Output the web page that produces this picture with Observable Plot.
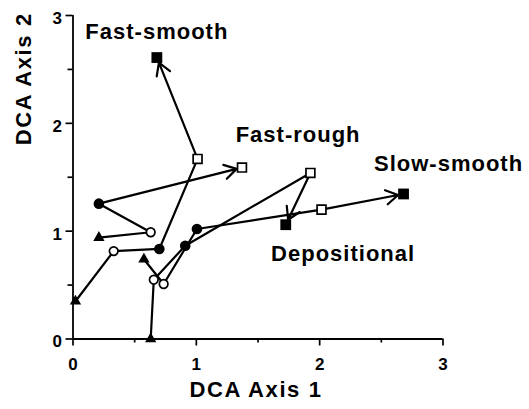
<!DOCTYPE html>
<html><head><meta charset="utf-8">
<script src="https://cdn.jsdelivr.net/npm/d3@7"></script>
<script src="https://cdn.jsdelivr.net/npm/@observablehq/plot@0.6"></script>
<style>
html,body{margin:0;padding:0;background:#fff}
svg text{font-weight:bold}
</style>
</head><body><div id="chart"></div>
<script>
// ---- data ----
const sites = ["Fast-smooth", "Fast-rough", "Depositional", "Slow-smooth"];
// stages 1..5 (triangle, open circle, filled circle, open square, filled square)
const fastSmoothX = [0.02, 0.33, 0.70, 1.01, 0.68];
const fastSmoothY = [0.35, 0.815, 0.835, 1.67, 2.61];
const fastRoughX = [0.21, 0.63, 0.21, 1.37];
const fastRoughY = [0.94, 0.99, 1.255, 1.59];
const depositionalX = [0.63, 0.655, 0.91, 1.925, 1.725];
const depositionalY = [0.0, 0.55, 0.865, 1.54, 1.06];
const slowSmoothX = [0.575, 0.735, 1.005, 2.015, 2.68];
const slowSmoothY = [0.74, 0.51, 1.02, 1.20, 1.345];
const labelX = [0.68, 1.825, 2.19, 3.045];
const labelY = [2.85, 1.89, 0.79, 1.625];
const xTicks = [0, 1, 2, 3];
const yTicks = [0, 1, 2, 3];
const minorTicks = [0.5, 1.5, 2.5];
const xTitle = "DCA Axis 1";
const yTitle = "DCA Axis 2";

// ---- build tables ----
const seriesX = [fastSmoothX, fastRoughX, depositionalX, slowSmoothX];
const seriesY = [fastSmoothY, fastRoughY, depositionalY, slowSmoothY];
const points = [];
const lineRows = [];
const arrows = [];
sites.forEach((site, s) => {
  const X = seriesX[s], Y = seriesY[s], n = X.length;
  X.forEach((x, i) => {
    points.push({site, stage: i + 1, x, y: Y[i]});
    if (i < n - 1) lineRows.push({site, x, y: Y[i]});
  });
  arrows.push({site, x1: X[n - 2], y1: Y[n - 2], x2: X[n - 1], y2: Y[n - 1]});
});
const labels = sites.map((name, i) => ({name, x: labelX[i], y: labelY[i]}));

const stageStyle = {
  1: {symbol: "triangle", r: 4.2, fill: "black", stroke: "none"},
  2: {symbol: "circle", r: 4.3, fill: "white", stroke: "black"},
  3: {symbol: "circle", r: 5.3, fill: "black", stroke: "none"},
  4: {symbol: "square", r: 5, fill: "white", stroke: "black"},
  5: {symbol: "square", r: 6.1, fill: "black", stroke: "none"}
};
const dotMarks = [1, 2, 3, 4, 5].map(st => {
  const o = stageStyle[st];
  return Plot.dot(points.filter(d => d.stage === st), {
    x: "x", y: "y", symbol: () => o.symbol, r: o.r,
    fill: o.fill, stroke: o.stroke, strokeWidth: 1.7
  });
});

const chart = Plot.plot({
  width: 529,
  height: 409,
  marginLeft: 72.5,
  marginRight: 86.5,
  marginTop: 15,
  marginBottom: 70.5,
  style: {fontFamily: "'Liberation Sans', Arial, Helvetica, sans-serif", background: "white", color: "black", overflow: "visible"},
  x: {domain: [0, 3], axis: null},
  y: {domain: [0, 3], axis: null},
  symbol: {type: "identity"},
  marks: [
    // axes
    Plot.axisX(xTicks, {tickSize: 7, tickFormat: () => "", strokeWidth: 1.7, label: null}),
    Plot.axisX(minorTicks, {tickSize: 4, tickFormat: () => "", strokeWidth: 1.7, label: null}),
    Plot.axisY(yTicks, {tickSize: 7, tickFormat: () => "", strokeWidth: 1.7, label: null}),
    Plot.axisY(minorTicks, {tickSize: 5, tickFormat: () => "", strokeWidth: 1.7, label: null}),
    Plot.ruleX([0], {strokeWidth: 1.8}),
    Plot.ruleY([0], {strokeWidth: 1.8}),
    Plot.text(xTicks, {x: d => d, y: 0, dy: 26, text: d => String(d), fontSize: 17, fontWeight: "bold", textAnchor: "middle"}),
    Plot.text(yTicks, {x: 0, y: d => d, dx: -11, dy: 3, text: d => String(d), fontSize: 17, fontWeight: "bold", textAnchor: "end"}),
    Plot.text([xTitle], {frameAnchor: "bottom", dx: -2, dy: 58, text: d => d, fontSize: 22, fontWeight: "bold"}),
    Plot.text([yTitle], {frameAnchor: "left", rotate: -90, dx: -49, dy: -32, text: d => d, fontSize: 22, fontWeight: "bold"}),
    // trajectories
    Plot.line(lineRows, {x: "x", y: "y", z: "site", stroke: "black", strokeWidth: 2.2, strokeLinejoin: "round"}),
    Plot.arrow(arrows, {x1: "x1", y1: "y1", x2: "x2", y2: "y2", stroke: "black", strokeWidth: 2.2, headLength: 9.5, headAngle: 62, insetEnd: 5.5}),
    ...dotMarks,
    // site labels
    Plot.text(labels, {x: "x", y: "y", text: "name", fontSize: 22, fontWeight: "bold", textAnchor: "middle"})
  ]
});

d3.select(chart).selectAll("text").each(function () {
  const t = this.textContent;
  if (sites.includes(t)) this.style.letterSpacing = "1px";
  if (t === xTitle || t === yTitle) this.style.letterSpacing = "1.6px";
});
document.getElementById("chart").appendChild(chart);
</script>
</body></html>
